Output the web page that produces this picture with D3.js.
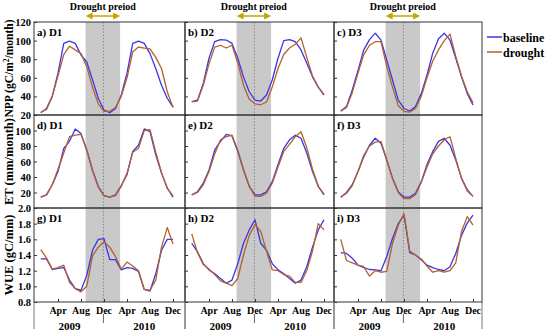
<!DOCTYPE html>
<html><head><meta charset="utf-8">
<script src="https://cdn.jsdelivr.net/npm/d3@7"></script>
<style>
body{margin:0;background:#fff}
text{font-family:"Liberation Serif","Times New Roman",serif;font-weight:bold;fill:#000}
</style>
</head><body>
<svg id="c" width="550" height="334"></svg>
<script>
// ---------- data ----------
const months = d3.range(24); // Jan 2009 .. Dec 2010
const monthTicks = [3, 7, 11, 15, 19, 23];
const monthLabels = ["Apr", "Aug", "Dec", "Apr", "Aug", "Dec"];
const years = ["2009", "2010"];
const yearPos = [5, 18];
const droughtSpan = [7.8, 13.8];
const droughtCenter = 10.9;
const sites = ["D1", "D2", "D3"];
const panelLetters = [["a", "b", "c"], ["d", "e", "f"], ["g", "h", "i"]];
const seriesNames = ["baseline", "drought"];
const yTicksNPP = [20, 40, 60, 80, 100, 120];
const yTicksET = [20, 40, 60, 80, 100];
const yTicksWUE = [0.8, 1.0, 1.2, 1.4, 1.6, 1.8, 2.0];

const nppBaseD1 = [22.5,27,40,65,97,99.5,97,84.5,77,58,38,25.4,22.5,27,41.5,65,97,99.5,97,86,70,52,38,28.5];
const nppDrD1   = [23,26,40,62,85,94,90,86,72,50,32,24,24,28,40,60,88,93,92,91,82,70,45,28];
const nppBaseD2 = [34.3,36,54,81,99,101,100.6,97,81,61,45,36,35,41.5,57.6,81,100,101,99,90,76,61,50,41.5];
const nppDrD2   = [34,35,52,75,93,95,92,95,76,52,37,32,31,34,50,70,85,92,96,103,82,62,50,42];
const nppBaseD3 = [24.3,29,47,68,90,101,108,100.6,79,57.6,36,27,24.3,29,43,63,86.5,102,108,100.6,81,61,43,30.8];
const nppDrD3   = [24,28,44,65,85,95,98.8,99,72,50,30,24,23,27,40,60,78,90,100,107,83,62,45,33];

const etBaseD1 = [14,17,30,47,77,86,102,96,75,49,28,16,14,17,29,43,73,81,102,98.5,68.5,45,26,14];
const etDrD1   = [14,17,30,50,71,92,94,95,74,48,27,16,14,16,28,45,72,77,100,101,72,46,25,16];
const etBaseD2 = [17,21,32,49,75,86,95,93,73,49,28,17,17,21,34,56,77,88,94,90,71,47,28,17];
const etDrD2   = [17,20,30,47,70,88,92,94,75,50,28,15,15,19,32,53,73,82,92,98.5,78,50,28,18];
const etBaseD3 = [14,20,30,47,66,81,90,83.5,62,38.5,21,14,14,19,34,56,73,86,90,81,62,38.5,23.5,15];
const etDrD3   = [14,19,29,47,68,80,85,86,62,38,20,12,12,17,33,53,70,80,88,92,64,38,22,15];

const wueBaseD1 = [1.35,1.35,1.215,1.23,1.24,1.08,0.97,0.95,1.14,1.46,1.6,1.61,1.34,1.34,1.21,1.24,1.23,1.19,0.96,0.94,1.16,1.46,1.6,1.6];
const wueDrD1   = [1.47,1.36,1.22,1.24,1.27,1.05,0.97,0.93,1.0,1.39,1.5,1.57,1.5,1.38,1.22,1.31,1.26,1.2,0.96,0.95,1.08,1.5,1.75,1.54];
const wueBaseD2 = [1.55,1.44,1.29,1.21,1.16,1.1,1.04,1.08,1.29,1.55,1.72,1.85,1.55,1.46,1.29,1.21,1.16,1.1,1.04,1.08,1.25,1.5,1.72,1.85];
const wueDrD2   = [1.67,1.43,1.28,1.22,1.15,1.07,1.04,1.01,1.1,1.4,1.65,1.79,1.7,1.45,1.21,1.2,1.15,1.13,1.05,1.05,1.2,1.45,1.8,1.72];
const wueBaseD3 = [1.43,1.42,1.36,1.27,1.24,1.215,1.21,1.2,1.38,1.61,1.8,1.91,1.43,1.4,1.34,1.27,1.24,1.215,1.2,1.25,1.42,1.65,1.81,1.91];
const wueDrD3   = [1.6,1.33,1.3,1.27,1.25,1.13,1.2,1.18,1.19,1.55,1.78,1.93,1.45,1.4,1.35,1.26,1.18,1.2,1.18,1.2,1.3,1.7,1.89,1.78];

// ---------- layout ----------
const colors = {baseline: "#3b35e6", drought: "#b2622c"};
const colLeft = [34, 185, 334];
const colRight = [185, 334, 482];
const rowTop = [22, 115, 208];
const rowBot = [115, 208, 302];

const rows = [
  {name: "NPP", domain: [20, 120], ticks: yTicksNPP, labels: yTicksNPP, fmt: d => d,
   data: [[nppBaseD1, nppDrD1], [nppBaseD2, nppDrD2], [nppBaseD3, nppDrD3]]},
  {name: "ET", domain: [0, 120], ticks: [0, ...yTicksET, 120], labels: yTicksET, fmt: d => d,
   data: [[etBaseD1, etDrD1], [etBaseD2, etDrD2], [etBaseD3, etDrD3]]},
  {name: "WUE", domain: [0.8, 2.0], ticks: yTicksWUE, labels: yTicksWUE, fmt: d3.format(".1f"),
   data: [[wueBaseD1, wueDrD1], [wueBaseD2, wueDrD2], [wueBaseD3, wueDrD3]]}
];

const svg = d3.select("#c");

// shading + dotted lines first
rows.forEach((row, r) => {
  sites.forEach((s, c) => {
    const x = d3.scaleLinear().domain([0, 23]).range([colLeft[c] + 6.75, colLeft[c] + 139]);
    svg.append("rect")
      .attr("x", x(droughtSpan[0])).attr("y", rowTop[r])
      .attr("width", x(droughtSpan[1]) - x(droughtSpan[0]))
      .attr("height", rowBot[r] - rowTop[r])
      .attr("fill", "#c9c9c9");
    svg.append("line")
      .attr("x1", x(droughtCenter)).attr("x2", x(droughtCenter))
      .attr("y1", rowTop[r]).attr("y2", rowBot[r])
      .attr("stroke", "#7a7a7a").attr("stroke-width", 1).attr("stroke-dasharray", "1.2,2");
  });
});

rows.forEach((row, r) => {
  const y = d3.scaleLinear().domain(row.domain).range([rowBot[r], rowTop[r]]);
  sites.forEach((s, c) => {
    const x = d3.scaleLinear().domain([0, 23]).range([colLeft[c] + 6.75, colLeft[c] + 139]);
    const g = svg.append("g");
    row.data[c].forEach((vals, k) => {
      const line = d3.line().x((d, i) => x(months[i])).y(d => y(d));
      g.append("path").datum(vals)
        .attr("d", line)
        .attr("fill", "none")
        .attr("stroke", colors[seriesNames[k]])
        .attr("stroke-width", 1.3)
        .attr("stroke-linejoin", "round");
    });
    const yAxis = d3.axisRight(y).tickValues(row.ticks).tickSize(3).tickFormat("");
    const ya = svg.append("g").attr("transform", `translate(${colLeft[c]},0)`).call(yAxis);
    ya.select(".domain").remove();
    ya.selectAll("line").attr("stroke", "#333");
    svg.append("text")
      .attr("x", colLeft[c] + 3).attr("y", rowTop[r] + 14)
      .attr("font-size", 11)
      .text(`${panelLetters[r][c]}) ${s}`);
    svg.append("rect")
      .attr("x", colLeft[c]).attr("y", rowTop[r])
      .attr("width", colRight[c] - colLeft[c]).attr("height", rowBot[r] - rowTop[r])
      .attr("fill", "none").attr("stroke", "#333").attr("stroke-width", 1);
    if (r === 2) {
      const xAxis = d3.axisTop(x).tickValues(monthTicks).tickSize(3).tickFormat("");
      const xa = svg.append("g").attr("transform", `translate(0,${rowBot[r]})`).call(xAxis);
      xa.select(".domain").remove();
      xa.selectAll("line").attr("stroke", "#333");
      monthTicks.forEach((m, j) => {
        svg.append("text").attr("x", x(m)).attr("y", rowBot[r] + 12)
          .attr("text-anchor", "middle").attr("font-size", 10).text(monthLabels[j]);
      });
      years.forEach((yr, j) => {
        svg.append("text").attr("x", x(yearPos[j])).attr("y", rowBot[r] + 28)
          .attr("text-anchor", "middle").attr("font-size", 11).text(yr);
      });
      svg.append("line").attr("x1", x(droughtCenter)).attr("x2", x(droughtCenter))
        .attr("y1", rowBot[r] + 12).attr("y2", rowBot[r] + 21)
        .attr("stroke", "#666").attr("stroke-width", 1);
      [colLeft[c], colRight[c]].forEach(xx => {
        svg.append("line").attr("x1", xx).attr("x2", xx)
          .attr("y1", rowBot[r]).attr("y2", rowBot[r] + 27)
          .attr("stroke", "#777").attr("stroke-width", 1);
      });
    }
    if (r === 0) {
      const x0 = x(droughtSpan[0]), x1 = x(droughtSpan[1]);
      const ay = 16;
      svg.append("line").attr("x1", x0 + 4).attr("x2", x1 - 4).attr("y1", ay).attr("y2", ay)
        .attr("stroke", "#c9a400").attr("stroke-width", 1.5);
      svg.append("path").attr("d", `M${x0},${ay} L${x0 + 7},${ay - 3.5} L${x0 + 7},${ay + 3.5} Z`).attr("fill", "#c9a400");
      svg.append("path").attr("d", `M${x1},${ay} L${x1 - 7},${ay - 3.5} L${x1 - 7},${ay + 3.5} Z`).attr("fill", "#c9a400");
      svg.append("text").attr("x", (x0 + x1) / 2).attr("y", 10)
        .attr("text-anchor", "middle").attr("font-size", 10).text("Drought preiod");
    }
  });
  row.labels.forEach(v => {
    svg.append("text").attr("x", colLeft[0] - 3).attr("y", y(v) + 4)
      .attr("text-anchor", "end").attr("font-size", 10.5).text(row.fmt(v));
  });
});

// y axis titles
const yTitleX = 13;
const t1 = svg.append("text").attr("transform", `translate(${yTitleX},${(rowTop[0] + rowBot[0]) / 2}) rotate(-90)`)
  .attr("text-anchor", "middle").attr("font-size", 11.5);
t1.append("tspan").text("NPP (gC/m");
t1.append("tspan").attr("font-size", 7.5).attr("dy", -4.5).text("2");
t1.append("tspan").attr("dy", 4.5).text("/month)");
svg.append("text").attr("transform", `translate(${yTitleX},${(rowTop[1] + rowBot[1]) / 2}) rotate(-90)`)
  .attr("text-anchor", "middle").attr("font-size", 12.5).text("ET (mm/month)");
svg.append("text").attr("transform", `translate(${yTitleX},${(rowTop[2] + rowBot[2]) / 2}) rotate(-90)`)
  .attr("text-anchor", "middle").attr("font-size", 12.5).text("WUE (gC/mm)");

// legend
seriesNames.forEach((n, k) => {
  const ly = 37 + k * 15;
  svg.append("line").attr("x1", 487).attr("x2", 502).attr("y1", ly).attr("y2", ly)
    .attr("stroke", colors[n]).attr("stroke-width", 1.5);
  svg.append("text").attr("x", 503).attr("y", ly + 4.5).attr("font-size", 12).text(n);
});
</script>
</body></html>
